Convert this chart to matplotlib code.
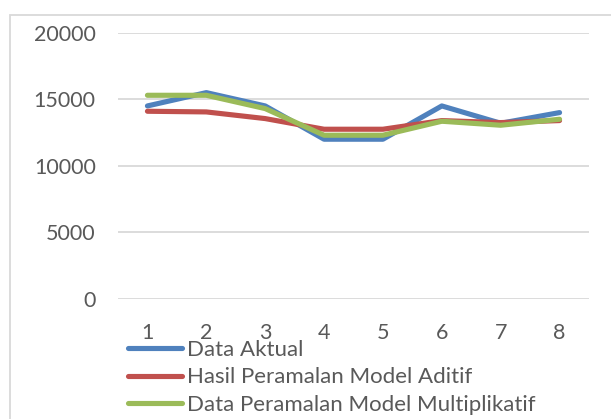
import matplotlib.pyplot as plt
from matplotlib.patches import Rectangle

# data
periode = [1, 2, 3, 4, 5, 6, 7, 8]
data_aktual = [14500, 15500, 14500, 12000, 12000, 14500, 13200, 14000]
model_aditif = [14100, 14050, 13550, 12750, 12750, 13400, 13250, 13400]
model_multiplikatif = [15300, 15300, 14300, 12300, 12300, 13350, 13050, 13500]

labels = ['Data Aktual', 'Hasil Peramalan Model Aditif', 'Data Peramalan Model Multiplikatif']
colors = ['#4F81BD', '#C0504D', '#9BBB59']
text_color = '#595959'
grid_color = '#D9D9D9'

plt.rcParams['font.family'] = ['Lato', 'DejaVu Sans']
fs = 15.5

W, H = 611, 419
fig = plt.figure(figsize=(W / 100, H / 100), dpi=100)

# outer chart frame
fig.patches.append(Rectangle((10 / W, -0.1), 1.2, 1 - 15 / H + 0.1, transform=fig.transFigure,
                             fill=False, edgecolor=grid_color, linewidth=1.3))

ax = fig.add_axes([118 / W, 1 - 299 / H, 471 / W, 266.3 / H])

for serie, lab, col in zip([data_aktual, model_aditif, model_multiplikatif], labels, colors):
    ax.plot(periode, serie, color=col, linewidth=3.7, label=lab, solid_capstyle='round')

ax.set_xlim(0.5, 8.5)
ax.set_ylim(0, 20000)
ax.set_yticks([0, 5000, 10000, 15000, 20000])
ax.set_xticks(periode)
ax.grid(axis='y', color=grid_color, linewidth=1.3)
ax.set_axisbelow(True)
for s in ax.spines.values():
    s.set_visible(False)
ax.tick_params(axis='both', length=0, labelsize=fs, colors=text_color)
ax.tick_params(axis='y', pad=16)
ax.tick_params(axis='x', pad=17)

leg = fig.legend(loc='upper left', bbox_to_anchor=(128 / W, 1 - 340 / H), frameon=False,
                 fontsize=16, handlelength=2.45, handletextpad=0.2, labelspacing=0.33,
                 borderpad=0, borderaxespad=0)
for t in leg.get_texts():
    t.set_color(text_color)

fig.savefig('out.png', dpi=100)
